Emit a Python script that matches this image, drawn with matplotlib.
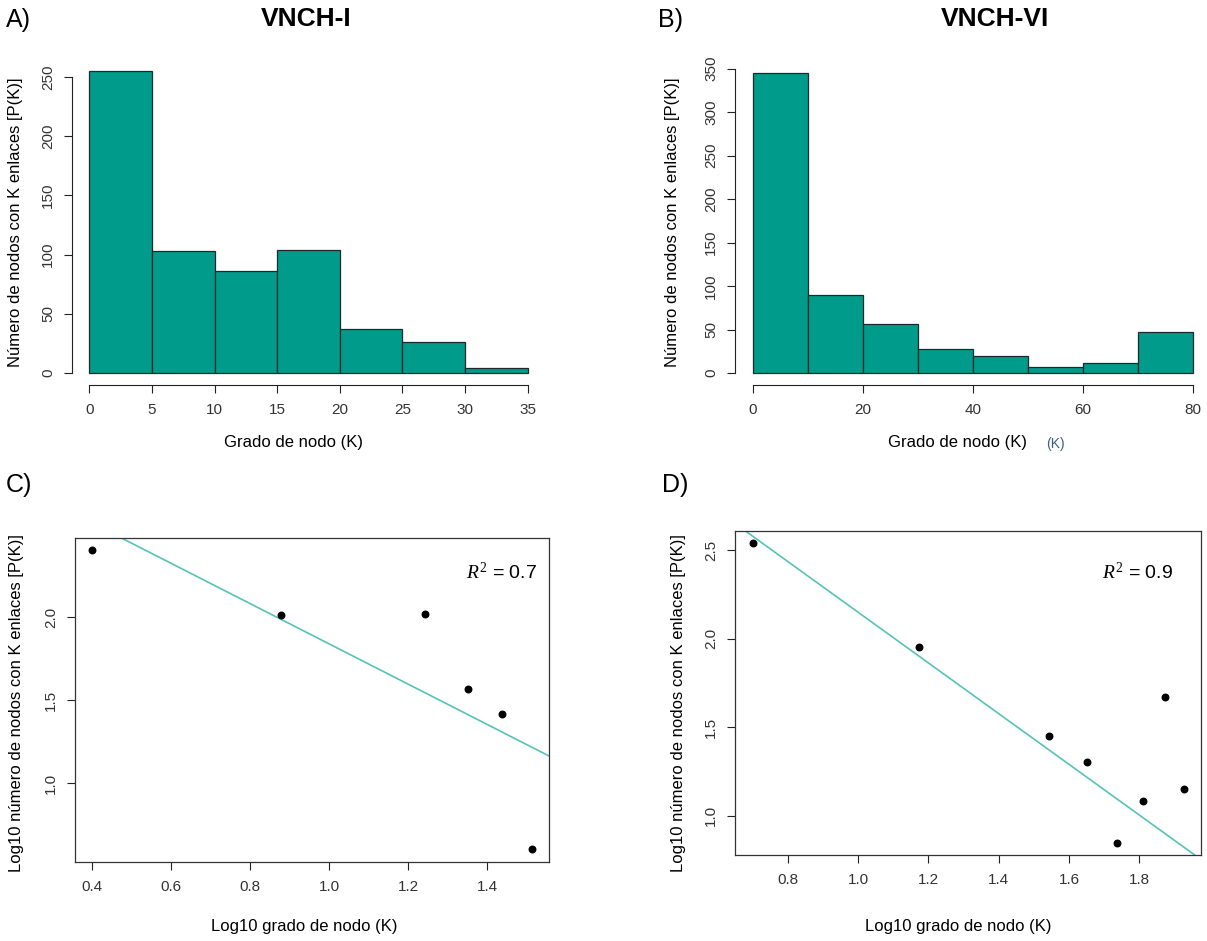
import matplotlib
matplotlib.use('Agg')
import matplotlib.pyplot as plt
import numpy as np

# histogram data
edges_a = [0, 5, 10, 15, 20, 25, 30, 35]
counts_a = [255, 103, 86, 104, 37, 26, 4]
edges_b = [0, 10, 20, 30, 40, 50, 60, 70, 80]
counts_b = [345, 90, 56, 28, 20, 7, 12, 47]

# log-log points
logk_c = [0.398, 0.877, 1.243, 1.353, 1.439, 1.513]
logp_c = [2.405, 2.012, 2.018, 1.566, 1.416, 0.604]
logk_d = [0.699, 1.174, 1.542, 1.652, 1.737, 1.811, 1.874, 1.928]
logp_d = [2.540, 1.954, 1.451, 1.302, 0.846, 1.083, 1.671, 1.149]

# fitted lines (intercept, slope) and R2
fit_c = [3.052, -1.212]
fit_d = [3.582, -1.432]
r2_c = 0.7
r2_d = 0.9

plt.rcParams['font.family'] = ['Liberation Sans', 'DejaVu Sans']
plt.rcParams['mathtext.fontset'] = 'custom'
plt.rcParams['mathtext.rm'] = 'Liberation Serif'
plt.rcParams['mathtext.it'] = 'Liberation Serif:italic'

W, H = 1207, 941
fig = plt.figure(figsize=(W / 100, H / 100), dpi=100)

bar_col = '#009B8A'
line_col = '#55C3B8'
tick_col = '#333333'


def add_ax(l, t, r, b):
    return fig.add_axes([l / W, 1 - b / H, (r - l) / W, (b - t) / H])


def style(ax):
    ax.tick_params(direction='out', length=6, width=0.8, colors='#222222',
                   labelsize=11, labelcolor=tick_col)
    ax.tick_params(axis='x', pad=7)
    ax.tick_params(axis='y', pad=6)
    for lab in ax.get_yticklabels():
        lab.set_rotation(90)
        lab.set_va('center')


def hist_panel(ax, edges, counts, xticks, yticks):
    ax.bar(edges[:-1], counts, width=np.diff(edges), align='edge',
           color=bar_col, edgecolor='#1c2b2a', linewidth=0.9)
    ax.set_xlim(edges[0] - 0.04 * (edges[-1] - edges[0]), edges[-1] + 0.04 * (edges[-1] - edges[0]))
    ymax = max(counts)
    ax.set_ylim(-0.04 * ymax, ymax * 1.04)
    ax.set_xticks(xticks)
    ax.set_yticks(yticks)
    for s in ['top', 'right']:
        ax.spines[s].set_visible(False)
    ax.spines['bottom'].set_bounds(xticks[0], xticks[-1])
    ax.spines['left'].set_bounds(yticks[0], yticks[-1])
    for s in ['bottom', 'left']:
        ax.spines[s].set_color('#222222')
        ax.spines[s].set_linewidth(0.8)
    style(ax)


def scatter_panel(ax, x, y, fit, r2, xlim, ylim, xticks, yticks, txt_x, txt_y):
    ax.scatter(x, y, s=22, color='black', zorder=3)
    ax.axline((0, fit[0]), slope=fit[1], color=line_col, linewidth=1.2)
    ax.set_xlim(*xlim)
    ax.set_ylim(*ylim)
    ax.set_xticks(xticks)
    ax.set_yticks(yticks)
    ax.set_xticklabels(['%.1f' % v for v in xticks])
    ax.set_yticklabels(['%.1f' % v for v in yticks])
    for s in ax.spines.values():
        s.set_color('#333333')
        s.set_linewidth(0.9)
    style(ax)
    ax.text(txt_x, txt_y, r'$\mathit{R}^{2}$' + ' = %.1f' % r2, transform=ax.transAxes,
            fontsize=14, ha='right', va='center')


# A
ax_a = add_ax(71.8, 59, 545.1, 385)
hist_panel(ax_a, edges_a, counts_a, edges_a, [0, 50, 100, 150, 200, 250])
# B
ax_b = add_ax(735, 61, 1211, 385)
hist_panel(ax_b, edges_b, counts_b, [0, 20, 40, 60, 80], [0, 50, 100, 150, 200, 250, 300, 350])
# C
ax_c = add_ax(75, 538, 549, 862)
scatter_panel(ax_c, logk_c, logp_c, fit_c, r2_c, (0.356, 1.557), (0.526, 2.478),
              [0.4, 0.6, 0.8, 1.0, 1.2, 1.4], [1.0, 1.5, 2.0], (537 - 75) / 474, 1 - (573 - 538) / 324)
# D
ax_d = add_ax(735, 531, 1201, 855)
scatter_panel(ax_d, logk_d, logp_d, fit_d, r2_d, (0.649, 1.976), (0.778, 2.61),
              [0.8, 1.0, 1.2, 1.4, 1.6, 1.8], [1.0, 1.5, 2.0, 2.5], (1173 - 735) / 466, 1 - (573 - 531) / 324)


def ftext(x, y, s, **kw):
    fig.text(x / W, 1 - y / H, s, **kw)


# panel letters and titles
for lx, ly, letter in [(6, 20, 'A)'), (658, 20, 'B)'), (6, 485, 'C)'), (662, 485, 'D)')]:
    ftext(lx, ly, letter, fontsize=18, ha='left', va='center')
ftext(306, 19, 'VNCH-I', fontsize=19, fontweight='bold', ha='center', va='center')
ftext(995, 19, 'VNCH-VI', fontsize=19, fontweight='bold', ha='center', va='center')

# axis labels
ylab_h = 'Número de nodos con K enlaces [P(K)]'
ylab_l = 'Log10 número de nodos con K enlaces [P(K)]'
ftext(294, 443, 'Grado de nodo (K)', fontsize=12, ha='center', va='center')
ftext(958, 443, 'Grado de nodo (K)', fontsize=12, ha='center', va='center')
ftext(1055, 444, '(K)', fontsize=10, color='#3d5f86', ha='center', va='center')
ftext(16, 222, ylab_h, fontsize=12, rotation=90, ha='center', va='center')
ftext(672, 222, ylab_h, fontsize=12, rotation=90, ha='center', va='center')
ftext(304, 927, 'Log10 grado de nodo (K)', fontsize=12, ha='center', va='center')
ftext(958, 927, 'Log10 grado de nodo (K)', fontsize=12, ha='center', va='center')
ftext(17, 703, ylab_l, fontsize=12, rotation=90, ha='center', va='center')
ftext(679, 703, ylab_l, fontsize=12, rotation=90, ha='center', va='center')

fig.savefig('out.png', dpi=100)
